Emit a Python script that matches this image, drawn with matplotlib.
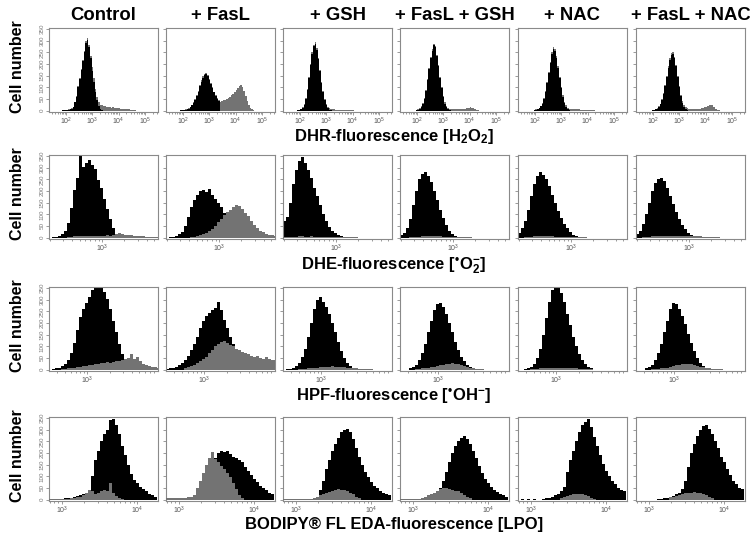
import matplotlib
matplotlib.use('Agg')
import matplotlib.pyplot as plt
import numpy as np
from matplotlib.ticker import LogLocator, NullFormatter

plt.rcParams['font.family'] = ['Liberation Sans', 'DejaVu Sans']
plt.rcParams['mathtext.fontset'] = 'custom'
plt.rcParams['mathtext.rm'] = 'Liberation Sans'
plt.rcParams['mathtext.bf'] = 'Liberation Sans:bold'
plt.rcParams['mathtext.default'] = 'regular'

# ~~~~~~~~~~~~~~~~~~~~~~~~~~~~~~~~~~~~~~~~~~~~~~~~~~~~~~~~~~~~~~~~~~~~~~~~~~~~~
# data: cell counts per log10 bin
# (first bin edge in log10, bin width in log10), x range in log10

CONDITIONS = ['Control', '+ FasL', '+ GSH', '+ FasL + GSH', '+ NAC', '+ FasL + NAC']

PROBES = [r'DHR-fluorescence [H$_\mathbf{2}$O$_\mathbf{2}$]',
          r'DHE-fluorescence [$^\mathbf{•}$O$_\mathbf{2}^\mathbf{-}$]',
          r'HPF-fluorescence [$^\mathbf{•}$OH$^\mathbf{-}$]',
          'BODIPY® FL EDA-fluorescence [LPO]']

DHR_BINS = (1.36, 0.06)
DHE_BINS = (2.29, 0.04)
HPF_BINS = (2.49, 0.04)
LPO_BINS = (2.83, 0.04)

DHR_XRANGE = (1.36, 5.50)
DHE_XRANGE = (2.29, 3.75)
HPF_XRANGE = (2.49, 3.95)
LPO_XRANGE = (2.83, 4.28)

DHR_BLACK = [
    [0,0,0,0,0,0,0,0,1,1, 2,2,3,5,8,15,35,60,100,135, 175,215,250,292,305,272,228,172,125,80, 45,20,8,3],
    [0,0,0,0,0,0,0,0,0,1, 2,3,4,6,9,14,22,32,45,62, 82,105,125,142,152,156,148,132,115,96, 78,62,50,42],
    [0,0,0,0,0,0,0,0,0,1, 3,6,12,25,50,90,140,195,245,278, 288,262,220,170,120,78,45,22,10,4, 2],
    [0,0,0,0,0,0,0,0,0,0, 2,4,8,15,28,50,85,130,180,225, 258,282,272,235,190,140,95,58,30,14, 6,2],
    [0,0,0,0,0,0,0,0,0,0, 2,3,6,10,18,30,50,80,118,160, 205,245,265,258,228,185,138,95,60,33, 16,7,3],
    [0,0,0,0,0,0,0,0,0,0, 2,3,5,9,16,27,45,72,105,145, 185,218,240,245,225,190,145,100,62,34, 16,7,3],
]
DHR_GREY = [
    [0,0,0,0,0,0,0,0,1,2, 3,4,5,7,10,17,37,63,104,138, 178,219,256,300,312,282,236,186,138,94,
     60,38,26,22,20,18,17,15,15,13, 14,12,11,12,10,9,9,7,6,5, 5,3,3,2,1],
    [0,0,0,0,0,0,0,0,0,1, 3,4,5,8,11,16,25,35,49,66, 86,109,130,147,158,160,152,136,119,100,
     82,66,54,46,36,40,44,47,50,55, 60,66,72,80,88,97,105,112,102,85, 62,40,24,12,5,2],
    [0,0,0,0,0,0,0,0,0,1, 4,8,15,28,53,94,144,199,250,284, 294,268,225,175,125,83,50,27,16,10,
     8,6,5,4,4,3,3,3,2,2, 2,2,1,1,1],
    [0,0,0,0,0,0,0,0,0,0, 3,5,10,18,31,54,89,134,185,230, 264,288,278,240,195,145,100,64,36,20,
     12,9,7,6,6,5,5,5,5,5, 6,8,10,12,14,13,10,7,4,2],
    [0,0,0,0,0,0,0,0,0,0, 3,5,8,13,21,34,54,84,122,164, 210,250,272,264,233,190,143,100,65,38,
     22,13,9,7,6,6,5,5,5,4, 4,4,4,3,3,3,2,2,1],
    [0,0,0,0,0,0,0,0,0,0, 3,4,7,12,19,30,49,76,109,150, 190,224,246,252,231,196,150,106,68,40,
     22,14,11,9,8,8,7,7,8,8, 9,10,12,14,17,20,24,26,22,15, 9,4,2],
]

DHE_BLACK = [
    [0,2,3,8,16,28,62,128,205,258, 350,305,322,335,312,295,248,215,165,122, 78,42,16,6,2],
    [0,2,4,8,15,25,50,90,130,160, 185,200,205,195,208,185,165,150,130,105, 80,55,35,15,5],
    [70,90,150,230,290,330,348,320,292,258, 215,178,140,100,72,45,30,20,12,6, 3,2],
    [10,20,40,80,140,200,250,275,282,265, 240,200,160,120,85,55,30,15,6,3],
    [20,40,70,120,180,230,265,282,270,250, 220,185,150,115,85,60,40,25,12,6, 3],
    [15,30,60,100,150,200,235,250,258,245, 215,180,145,110,80,55,35,20,10,5, 2],
]
DHE_GREY = [
    [0,0,0,0,0,0,2,3,5,6, 8,5,7,9,6,8,7,9,8,10, 9,12,15,18,16,13,11,10,8,9, 6,5,4,3,2,2,1],
    [0,0,0,0,0,0,0,0,2,4, 6,10,15,20,28,38,50,65,80,95, 110,120,130,142,135,122,105,92,72,56,
     42,30,22,16,12,10,8],
    [2,3,3,4,4,5,5,4,4,5, 4,3,3,3,2,2,2,3,2,2, 2,1,1,1,1],
    [0,0,0,2,3,4,4,5,5,6, 5,6,5,5,4,4,3,3,3,2, 2,2,1,1],
    [0,0,2,3,4,5,5,6,5,5, 6,5,4,4,4,3,3,3,2,2, 2,1,1],
    [0,0,2,3,4,5,6,6,7,6, 6,6,5,6,5,5,6,7,6,6, 5,5,4,3,3,2,2,1],
]

HPF_BLACK = [
    [0,2,5,8,14,22,40,70,115,170, 225,260,285,310,340,360,352,360,335,305, 260,210,160,110,65,35,18,10,5,3],
    [3,5,8,12,18,28,40,60,85,110, 140,180,210,230,245,255,265,290,255,215, 180,140,110,80,50,25,10],
    [0,2,4,8,15,30,55,90,140,200, 260,300,310,290,270,240,200,160,120,80, 50,30,15,8,4],
    [0,0,0,5,10,20,40,70,110,160, 210,255,280,285,270,240,200,160,120,85, 55,35,20,10,5],
    [0,0,3,6,12,25,50,90,150,220, 290,340,355,350,330,290,240,190,140,100, 65,40,22,10,5],
    [0,0,0,5,10,20,40,70,110,160, 210,260,285,280,260,230,195,155,115,80, 50,30,15,8,4],
]
HPF_GREY = [
    [0,0,0,0,3,4,5,6,8,10, 12,14,15,18,20,22,25,28,30,32, 30,32,35,38,40,45,50,65,45,55,
     35,25,20,15,12,10,8],
    [0,0,0,0,0,0,5,10,15,20, 28,35,45,55,70,85,100,110,120,125, 115,105,100,90,85,75,70,65,60,55,
     60,50,45,55,45,40,40],
    [0,0,0,0,0,2,3,4,5,6, 8,9,10,12,11,13,14,12,13,12, 10,9,8,6,5,4,3,2,2,1],
    [0,0,0,0,0,2,3,5,6,8, 10,12,15,18,20,22,25,28,26,24, 20,16,12,8,5,3,2,1],
    [0,0,0,0,2,3,4,5,6,7, 8,8,9,9,8,8,7,6,6,5, 4,3,2,2,1],
    [0,0,0,0,0,2,3,4,5,6, 8,10,15,18,20,22,24,25,22,20, 16,12,10,8,6,4,3,2,1],
]

LPO_BLACK = [
    [4,2,4,3,2,5,6,8,12,15, 20,25,30,40,100,170,210,250,280,300, 340,345,320,280,230,190,150,110,85,70,
     55,45,35,25,18,10],
    [0,0,0,0,0,0,0,0,0,0, 20,40,60,90,120,150,180,200,210,205, 210,195,185,180,170,160,140,125,105,90,
     75,60,50,40,30,25],
    [0,0,0,0,0,0,0,0,0,0, 5,10,40,80,130,170,210,240,265,290, 300,305,290,260,220,185,150,120,95,75,
     60,48,38,30,22,18],
    [0,0,0,0,0,0,0,0,0,0, 5,10,25,50,80,120,160,200,230,250, 265,275,260,240,210,180,145,115,90,70,
     55,42,32,25,18,12],
    [0,1,0,1,0,1,0,0,3,5, 8,12,18,25,35,55,120,170,210,250, 290,320,335,345,310,270,230,190,155,125,
     100,80,65,52,42,35],
    [0,0,0,0,0,0,0,3,4,6, 8,12,16,22,30,45,80,140,200,240, 275,300,315,320,305,280,250,220,185,160,
     130,105,80,65,52,45],
]
LPO_GREY = [
    [2,1,2,1,2,3,4,5,8,10, 12,20,28,40,35,25,30,35,40,35, 70,30,15,5,2],
    [5,8,5,6,5,8,7,10,12,20, 50,80,115,150,180,205,175,160,145,130, 115,95,70,45,20,5],
    [3,3,3,3,3,3,3,3,3,3, 8,12,18,22,28,32,38,42,45,40, 42,38,30,22,12,5],
    [3,3,3,3,3,3,3,5,10,18, 25,30,38,45,50,48,45,42,38,35, 28,20,12,5],
    [0,0,0,0,0,0,0,0,0,0, 0,0,0,0,8,12,15,20,22,25, 22,25,20,15,8,3],
    [0,0,0,0,0,0,0,0,0,0, 0,10,12,15,20,25,28,30,30,32, 30,28,25,20,12,5],
]

Y_TICKS = [0, 50, 100, 150, 200, 250, 300, 350]

# ~~~~~~~~~~~~~~~~~~~~~~~~~~~~~~~~~~~~~~~~~~~~~~~~~~~~~~~~~~~~~~~~~~~~~~~~~~~~~

GREY = '#737373'
FRAME = '#8a8a8a'

ROWS = [(DHR_BINS, DHR_XRANGE, DHR_BLACK, DHR_GREY, False),
        (DHE_BINS, DHE_XRANGE, DHE_BLACK, DHE_GREY, True),
        (HPF_BINS, HPF_XRANGE, HPF_BLACK, HPF_GREY, True),
        (LPO_BINS, LPO_XRANGE, LPO_BLACK, LPO_GREY, True)]

# panel boxes in pixels of the 750x537 figure
COL_LEFT = [49, 166, 283, 400, 518, 636]
PANEL_W = 109
ROW_TOP = [28, 155, 287, 417]
PANEL_H = 84
FIG_W, FIG_H = 750, 537


def draw_panel(ax, bins, xrange_, black, grey, grey_front):
    start, width = bins
    n = int(round((xrange_[1] - start) / width)) + 1
    edges = 10 ** (start + width * np.arange(n + 1))
    b = np.zeros(n)
    b[:len(black)] = black
    g = np.zeros(n)
    g[:len(grey)] = grey

    ax.stairs(g, edges, fill=True, color=GREY, lw=0, zorder=3 if grey_front else 1)
    ax.stairs(b, edges, fill=True, color='black', lw=0, zorder=2)

    ax.set_xscale('log')
    ax.set_xlim(10 ** xrange_[0], 10 ** xrange_[1])
    ax.set_ylim(-6, 355)
    ax.xaxis.set_major_locator(LogLocator(base=10))
    ax.xaxis.set_minor_locator(LogLocator(base=10, subs=np.arange(2, 10)))
    ax.xaxis.set_minor_formatter(NullFormatter())
    ax.set_yticks(Y_TICKS)

    for s in ax.spines.values():
        s.set_color(FRAME)
        s.set_linewidth(0.8)
    ax.tick_params(which='both', direction='out', color=FRAME, labelcolor='#555555',
                   width=0.6, top=False, right=False, pad=0.5)
    ax.tick_params(which='major', length=2.5, labelsize=5)
    ax.tick_params(which='minor', length=1.5)


def main():
    fig = plt.figure(figsize=(7.5, 5.37), dpi=100)

    for r, (bins, xr, blacks, greys, grey_front) in enumerate(ROWS):
        for c in range(6):
            ax = fig.add_axes([COL_LEFT[c] / FIG_W,
                               1 - (ROW_TOP[r] + PANEL_H) / FIG_H,
                               PANEL_W / FIG_W,
                               PANEL_H / FIG_H])
            draw_panel(ax, bins, xr, blacks[c], greys[c], grey_front)
            if c == 0:
                ax.set_yticklabels([str(v) for v in Y_TICKS], rotation=90,
                                   va='center', fontsize=4.5, color='#777777')
            else:
                ax.set_yticklabels([])
            if r == 0:
                ax.set_title(CONDITIONS[c], fontsize=13.3, fontweight='bold', pad=6)

        yc = 1 - (ROW_TOP[r] + PANEL_H / 2 - 3) / FIG_H
        fig.text(0.024, yc, 'Cell number', rotation=90, ha='center', va='center',
                 fontsize=11.5, fontweight='bold')

    label_y = [137, 266, 396, 525]
    for r, text in enumerate(PROBES):
        fig.text(0.525, 1 - label_y[r] / FIG_H, text, ha='center', va='center',
                 fontsize=12, fontweight='bold')

    fig.savefig('out.png', dpi=100)
    plt.close(fig)


if __name__ == '__main__':
    main()
